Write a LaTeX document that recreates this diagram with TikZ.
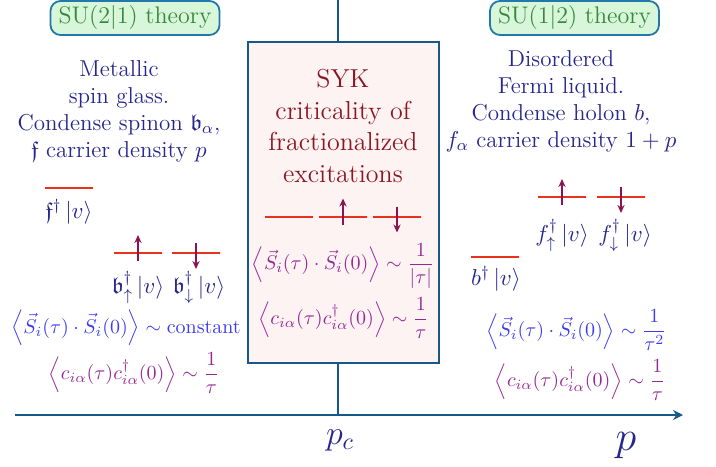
\RequirePackage{fix-cm}
\documentclass[tikz,border=0pt]{standalone}
\usepackage{amsmath,amssymb}
\usepackage{fontspec}
\usetikzlibrary{arrows.meta}
\definecolor{axisblue}{RGB}{22,88,135}
\definecolor{theoryedge}{RGB}{35,120,170}
\definecolor{phaseblue}{RGB}{38,38,140}
\definecolor{corrblue}{RGB}{60,60,235}
\definecolor{corrpurple}{RGB}{150,40,150}
\definecolor{sykred}{RGB}{140,22,32}
\definecolor{sykfill}{RGB}{253,243,243}
\definecolor{theoryfill}{RGB}{215,246,218}
\definecolor{theorytext}{RGB}{55,135,60}
\definecolor{levelred}{RGB}{232,50,30}
\definecolor{spinmag}{RGB}{140,20,80}
\begin{document}
\begin{tikzpicture}[x=0.5pt,y=-0.5pt,font=\fontsize{11.5}{13.5}\selectfont,
  theory/.style={draw=theoryedge,line width=0.9pt,rounded corners=5pt,fill=theoryfill,text=theorytext,minimum width=84.5pt,minimum height=17pt,inner sep=2pt,font=\fontsize{12}{14}\selectfont},
  phase/.style={text=phaseblue,align=center,inner sep=0pt},
  lvl/.style={draw=levelred,line width=1pt,minimum width=24pt,minimum height=0pt,inner sep=0pt},
  spin/.style={draw=spinmag,fill=spinmag,line width=0.8pt,-{Stealth[length=4pt,width=3.6pt]}},
  ket/.style={text=phaseblue,inner sep=0pt},
  corr/.style={inner sep=0pt,font=\fontsize{10}{12}\selectfont}]
  \useasboundingbox (0,0) rectangle (716,466);
  \coordinate (vt) at (338,0);
  \coordinate (vb) at (338,415);
  \coordinate (ax0) at (15,415);
  \coordinate (ax1) at (683,415);
  \draw[axisblue,line width=1pt] (vt) -- (vb);
  \draw[axisblue,line width=1pt,-{Stealth[length=5pt,width=5pt]}] (ax0) -- (ax1);
  \node[draw=axisblue,fill=sykfill,line width=0.6pt,minimum width=95.5pt,minimum height=160.5pt,inner sep=0pt] (syk) at (343.5,202.5) {};
  \node[text=sykred,align=center,font=\fontsize{13}{15.8}\selectfont] (sykt) at (343,126) {SYK\\criticality of\\fractionalized\\excitations};
  \node[theory] (su21) at (135,18) {SU(2$|$1) theory};
  \node[theory] (su12) at (574.5,18) {SU(1$|$2) theory};
  \node[phase] (msg) at (119,111) {Metallic\\spin glass.\\Condense spinon $\mathfrak{b}_\alpha$,\\$\mathfrak{f}$ carrier density $p$};
  \node[phase] (dfl) at (561,101) {Disordered\\Fermi liquid.\\Condense holon $b$,\\$f_\alpha$ carrier density $1+p$};
  \node[lvl] (lf) at (69,188) {};
  \node[lvl] (lbu) at (138,253) {};
  \node[lvl] (lbd) at (196,253) {};
  \node[lvl] (m0) at (289,216.5) {};
  \node[lvl] (mu) at (343,216.5) {};
  \node[lvl] (md) at (397,216.5) {};
  \node[lvl] (rfu) at (562,197) {};
  \node[lvl] (rfd) at (621,197) {};
  \node[lvl] (rb) at (495,257) {};
  \draw[spin] ([yshift=-4pt]lbu.center) -- ([yshift=9pt]lbu.center);
  \draw[spin] ([yshift=5pt]lbd.center) -- ([yshift=-8pt]lbd.center);
  \draw[spin] ([yshift=-4pt]mu.center) -- ([yshift=9pt]mu.center);
  \draw[spin] ([yshift=5pt]md.center) -- ([yshift=-8pt]md.center);
  \draw[spin] ([yshift=-4pt]rfu.center) -- ([yshift=9pt]rfu.center);
  \draw[spin] ([yshift=5pt]rfd.center) -- ([yshift=-8pt]rfd.center);
  \node[ket] (kf) at (69,212) {$\mathfrak{f}^\dagger\left|v\right\rangle$};
  \node[ket] (kbu) at (138,287) {$\mathfrak{b}^\dagger_\uparrow\left|v\right\rangle$};
  \node[ket] (kbd) at (199,287) {$\mathfrak{b}^\dagger_\downarrow\left|v\right\rangle$};
  \node[ket] (kfu) at (562,235) {$f^\dagger_\uparrow\left|v\right\rangle$};
  \node[ket] (kfd) at (625,235) {$f^\dagger_\downarrow\left|v\right\rangle$};
  \node[ket] (kb) at (496,279) {$b^\dagger\left|v\right\rangle$};
  \node[corr,text=corrblue] (sl) at (126,328) {$\left\langle\vec{S}_i(\tau)\cdot\vec{S}_i(0)\right\rangle\sim\text{constant}$};
  \node[corr,text=corrpurple] (cl) at (134,373) {$\left\langle c_{i\alpha}(\tau)c^\dagger_{i\alpha}(0)\right\rangle\sim\dfrac{1}{\tau}$};
  \node[corr,text=corrpurple] (sm) at (343,266) {$\left\langle\vec{S}_i(\tau)\cdot\vec{S}_i(0)\right\rangle\sim\dfrac{1}{|\tau|}$};
  \node[corr,text=corrpurple] (cm) at (343.5,318) {$\left\langle c_{i\alpha}(\tau)c^\dagger_{i\alpha}(0)\right\rangle\sim\dfrac{1}{\tau}$};
  \node[corr,text=corrblue] (sr) at (576.5,330) {$\left\langle\vec{S}_i(\tau)\cdot\vec{S}_i(0)\right\rangle\sim\dfrac{1}{\tau^2}$};
  \node[corr,text=corrpurple] (cr) at (580,380) {$\left\langle c_{i\alpha}(\tau)c^\dagger_{i\alpha}(0)\right\rangle\sim\dfrac{1}{\tau}$};
  \node[text=phaseblue,font=\fontsize{17}{20}\selectfont] (pc) at (340,440) {$p_c$};
  \node[text=phaseblue,font=\fontsize{21}{25}\selectfont] (p) at (626,446) {$p$};
\end{tikzpicture}
\end{document}
